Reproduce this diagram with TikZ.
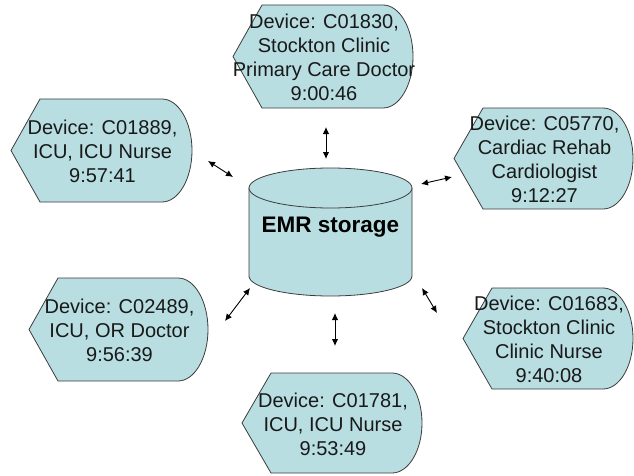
\documentclass[tikz,border=0pt]{standalone}
\usepackage{fontspec}
\setmainfont{Liberation Sans}
\usetikzlibrary{arrows.meta}
\definecolor{boxfill}{RGB}{184,222,226}
\definecolor{boxline}{RGB}{60,60,60}
\tikzset{
  dispshape/.style={draw=boxline, fill=boxfill, line width=0.8pt, line join=round},
  disptext/.style={align=center, inner sep=0pt, font=\fontsize{20pt}{24pt}\selectfont, text=black!90},
  link/.style={{Latex[length=7pt,width=6.5pt]}-{Latex[length=7pt,width=6.5pt]}, line width=0.9pt, black}
}
\newcommand\dispbox[6]{%
  \draw[dispshape] (#2,{(#4+#5)/2}) -- ({#2+29},#4) -- ({#3-30},#4)
    .. controls ({#3-13.5},#4) and (#3,{(#4+#5)/2+0.552*(#4-#5)/2}) .. (#3,{(#4+#5)/2})
    .. controls (#3,{(#4+#5)/2-0.552*(#4-#5)/2}) and ({#3-13.5},#5) .. ({#3-30},#5)
    -- ({#2+29},#5) -- cycle;
  \node[disptext] (#1) at ({(#2+#3)/2+1},{(#4+#5)/2-1}) {#6};
}
\begin{document}
\begin{tikzpicture}[x=1pt,y=1pt]
\useasboundingbox (0,0) rectangle (634,475);
% devices
\dispbox{top}{233}{413}{470}{367}{Device: C01830,\\Stockton Clinic\\Primary Care Doctor\\9:00:46}
\dispbox{tl}{11}{192}{376}{273}{Device: C01889,\\ICU, ICU Nurse\\9:57:41}
\dispbox{tr}{454}{633}{367}{266}{Device: C05770,\\Cardiac Rehab\\Cardiologist\\9:12:27}
\dispbox{bl}{29}{208}{197}{94}{Device: C02489,\\ICU, OR Doctor\\9:56:39}
\dispbox{bot}{242}{422}{102}{2}{Device: C01781,\\ICU, ICU Nurse\\9:53:49}
\dispbox{br}{463}{633}{187}{86}{Device: C01683,\\Stockton Clinic\\Clinic Nurse\\9:40:08}
% cylinder
\draw[dispshape] (249,287) -- (249,199) arc[start angle=180, end angle=360, x radius=81.5, y radius=20] -- (412,287);
\draw[dispshape] (330.5,287) ellipse[x radius=81.5, y radius=20];
\node[font=\bfseries\fontsize{22.5pt}{27pt}\selectfont, inner sep=0pt] (emr) at (330.5,248) {EMR storage};
% arrow end points
\coordinate (t1) at (326,348); \coordinate (t2) at (326,316);
\coordinate (tl1) at (208,314); \coordinate (tl2) at (233,298);
\coordinate (tr1) at (421,291); \coordinate (tr2) at (452,298);
\coordinate (bl1) at (225,154); \coordinate (bl2) at (250,187);
\coordinate (b1) at (335,162); \coordinate (b2) at (335,129);
\coordinate (br1) at (422,187); \coordinate (br2) at (437,162);
\draw[link] (t1) -- (t2);
\draw[link] (tl1) -- (tl2);
\draw[link] (tr1) -- (tr2);
\draw[link] (bl1) -- (bl2);
\draw[link] (b1) -- (b2);
\draw[link] (br1) -- (br2);
\end{tikzpicture}
\end{document}
